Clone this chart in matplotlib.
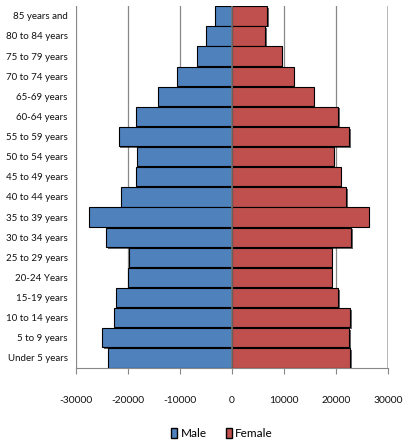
import matplotlib
matplotlib.use("Agg")
import matplotlib.pyplot as plt
import matplotlib.patheffects as pe
from matplotlib.patches import Patch
import numpy as np

plt.rcParams['font.family'] = ['Lato', 'DejaVu Sans']

# Age groups, oldest first (top of the pyramid)
age_groups = [
    "85 years and", "80 to 84 years", "75 to 79 years", "70 to 74 years",
    "65-69 years", "60-64 years", "55 to 59 years", "50 to 54 years",
    "45 to 49 years", "40 to 44 years", "35 to 39 years", "30 to 34 years",
    "25 to 29 years", "20-24 Years", "15-19 years", "10 to 14 years",
    "5 to 9 years", "Under 5 years",
]
male = [3300, 4900, 6800, 10600, 14200, 18500, 21800, 18300, 18500, 21400,
        27500, 24200, 19800, 19900, 22200, 22600, 25000, 23900]
female = [6800, 6400, 9600, 11900, 15700, 20400, 22600, 19600, 20900, 22000,
          26300, 22900, 19200, 19200, 20500, 22800, 22500, 22800]
x_ticks = [-30000, -20000, -10000, 0, 10000, 20000, 30000]

male_color = "#4F81BD"
female_color = "#C0504D"

fig = plt.figure(figsize=(4.04, 4.45), dpi=100)
ax = fig.add_axes([0.188, 0.173, 0.772, 0.814])

y = np.arange(len(age_groups))[::-1]
shadow = [pe.SimplePatchShadow(offset=(1.2, -1.2), shadow_rgbFace="black", alpha=0.6), pe.Normal()]

ax.barh(y, -np.array(male), height=0.96, color=male_color, edgecolor="black",
        linewidth=0.8, path_effects=shadow, zorder=3)
ax.barh(y, female, height=0.96, color=female_color, edgecolor="black",
        linewidth=0.8, path_effects=shadow, zorder=3)

ax.set_xlim(-30000, 30000)
ax.set_ylim(-0.5, len(age_groups) - 0.5)
ax.set_xticks(x_ticks)
ax.set_xticklabels([str(t) for t in x_ticks])
ax.set_yticks(y)
ax.set_yticklabels(age_groups)

ax.grid(axis="x", color="#888888", linewidth=0.9, zorder=0)
ax.axvline(0, color="#777777", linewidth=1.2, zorder=4)
ax.axvline(30000, color="#BBBBBB", linewidth=2.0, zorder=1)
for side in ["top", "right", "left"]:
    ax.spines[side].set_visible(False)
ax.spines["bottom"].set_color("#888888")

ax.tick_params(axis="x", length=4, color="#888888", pad=16, labelsize=7.4, labelcolor="#111111")
ax.tick_params(axis="y", length=0, pad=6, labelsize=7, labelcolor="#111111")

handles = [Patch(facecolor=male_color, edgecolor="black", label="Male"),
           Patch(facecolor=female_color, edgecolor="black", label="Female")]
fig.legend(handles=handles, loc="center", bbox_to_anchor=(0.55, 0.026), ncol=2,
           frameon=False, fontsize=8.5, handlelength=0.5, handleheight=0.9,
           handletextpad=0.3, columnspacing=1.6)

fig.savefig("out.png", dpi=100)
